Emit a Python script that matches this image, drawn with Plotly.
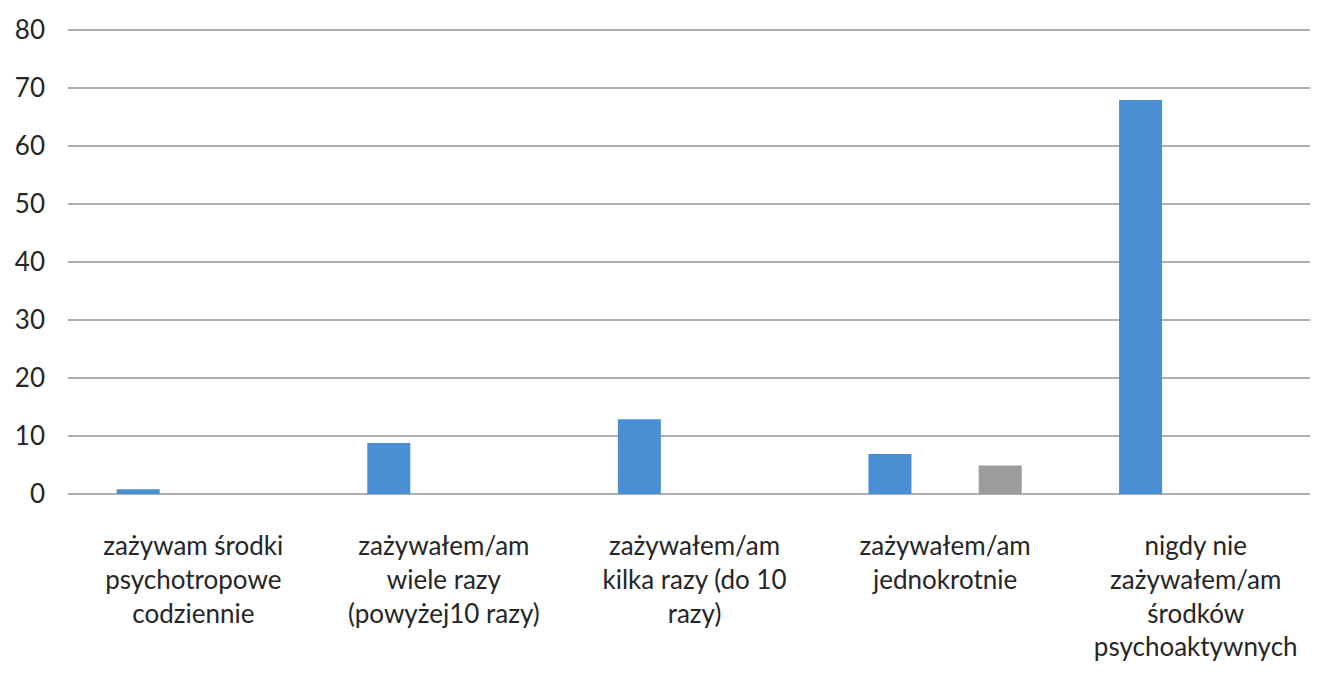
import plotly.graph_objects as go

categories = [
    "zażywam środki<br>psychotropowe<br>codziennie",
    "zażywałem/am<br>wiele razy<br>(powyżej10 razy)",
    "zażywałem/am<br>kilka razy (do 10<br>razy)",
    "zażywałem/am<br>jednokrotnie",
    "nigdy nie<br>zażywałem/am<br>środków<br>psychoaktywnych",
]
series1 = [0.8, 8.8, 12.9, 6.9, 67.9]
series2 = [0, 0, 0, 0, 0]
series3 = [0, 0, 0, 4.9, 0]
yticks = [0, 10, 20, 30, 40, 50, 60, 70, 80]

fig = go.Figure()
fig.add_trace(go.Bar(x=categories, y=series1, marker=dict(color="#4A8FD4", line_width=0)))
fig.add_trace(go.Bar(x=categories, y=series2, marker=dict(color="#ED7D31", line_width=0)))
fig.add_trace(go.Bar(x=categories, y=series3, marker=dict(color="#9C9C9C", line_width=0)))

fig.update_layout(
    width=1318, height=689,
    margin=dict(l=60, r=5, t=14, b=203),
    paper_bgcolor="white", plot_bgcolor="white",
    showlegend=False,
    barmode="group", bargap=0.34, bargroupgap=0.22,
    font=dict(family="Lato, Open Sans, sans-serif", size=26, color="#262626"),
)
fig.update_yaxes(
    range=[0, 81], tickvals=yticks, showgrid=True, gridcolor="#B0B0B0", gridwidth=1.5,
    zeroline=True, zerolinecolor="#B0B0B0", zerolinewidth=1.5, showline=False,
    ticks="", ticklabelstandoff=22, tickfont=dict(size=26),
)
fig.update_xaxes(
    showgrid=False, showline=False, ticks="", ticklabelstandoff=34,
    tickfont=dict(size=26),
)
fig.write_html("out.html")
